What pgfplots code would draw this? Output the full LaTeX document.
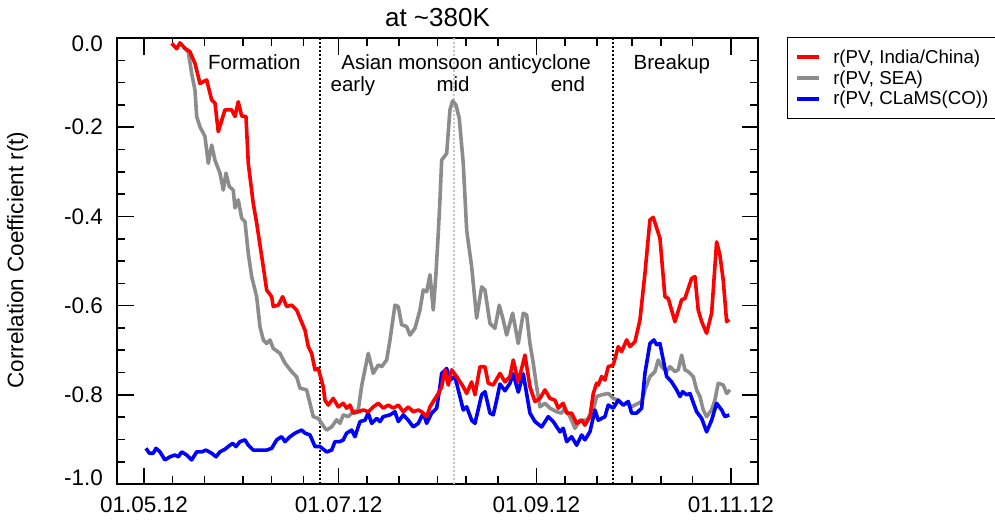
\documentclass[border=0pt]{standalone}
\usepackage{fontspec}
\setmainfont{Liberation Sans}
\usepackage{pgfplots}
\pgfplotsset{compat=1.18}
\definecolor{sgray}{RGB}{140,140,140}
\definecolor{lgray}{RGB}{195,195,195}
\begin{document}
\begin{tikzpicture}
\path[use as bounding box] (0pt,0pt) rectangle (995pt,-519pt);
\begin{axis}[
  at={(117pt,-484pt)}, anchor=south west,
  scale only axis, width=641pt, height=446pt,
  xmin=-8.46, xmax=192.5, ymin=-1, ymax=0,
  tick pos=both, tick align=inside,
  xtick={0,61,123,184},
  xticklabels={01.05.12,01.07.12,01.09.12,01.11.12},
  minor xtick={9,19,31,40,50,70,80,92,101,111,132,142,153,162,172},
  ytick={-1,-0.8,-0.6,-0.4,-0.2,0},
  yticklabels={,{-0.8},{-0.6},{-0.4},{-0.2},},
  minor ytick={-0.95,-0.9,-0.85,-0.75,-0.7,-0.65,-0.55,-0.5,-0.45,-0.35,-0.3,-0.25,-0.15,-0.1,-0.05},
  extra y ticks={-0.9865,-0.0135},
  extra y tick labels={{-1.0},{0.0}},
  extra y tick style={tick style={draw=none}},
  major tick length=16.5pt, minor tick length=8pt,
  every tick/.style={black, line width=1.6pt},
  axis line style={line width=1.8pt},
  xticklabel style={font=\fontsize{22.5}{27}\selectfont, inner sep=0pt, anchor=north, yshift=-12.7pt},
  yticklabel style={font=\fontsize{22.5}{27}\selectfont, inner sep=0pt, anchor=east, xshift=-14pt},
  every axis title/.style={at={(0.5,1)}, anchor=base, yshift=11.3pt, font=\fontsize{26}{30}\selectfont},
  title={at \textasciitilde380K},
  every axis y label/.style={at={(-0.1459,0.502)}, rotate=90, anchor=base, font=\fontsize{22.5}{27}\selectfont},
  ylabel={Correlation Coefficient r(t)},
  legend style={at={(1.0453,1.002)}, anchor=north west, draw=black, line width=1.2pt,
    inner xsep=8pt, inner ysep=12pt, font=\fontsize{18.7}{22}\selectfont,
    nodes={inner sep=0pt}, row sep=5.7pt,
    /tikz/every odd column/.append style={column sep=12.5pt}},
  legend cell align=left,
  legend image code/.code={\draw[#1] (0pt,0pt) -- (21.5pt,0pt);},
  clip=false,
]
% phase separators
\addplot[forget plot, black, line width=1.8pt, dash pattern=on 1.6pt off 2.4pt] coordinates {(55.2,-1) (55.2,0)};
\addplot[forget plot, black, line width=1.8pt, dash pattern=on 1.6pt off 2.4pt] coordinates {(147.1,-1) (147.1,0)};
\addplot[forget plot, lgray, line width=1.8pt, dash pattern=on 1.6pt off 2.4pt] coordinates {(97.1,-1) (97.1,0)};
% SEA
\addplot[forget plot, sgray, line width=3.6pt, line join=round] coordinates {
(12.32,-0.020)(13.89,-0.031)(14.95,-0.079)(15.99,-0.117)(16.52,-0.176)(17.55,-0.199)(19.12,-0.221)(20.16,-0.281)(21.22,-0.240)(22.26,-0.274)(23.82,-0.303)(24.86,-0.341)(25.71,-0.303)(26.74,-0.333)(27.99,-0.341)(28.53,-0.381)(29.56,-0.363)(30.63,-0.404)(31.66,-0.412)(32.70,-0.483)(33.76,-0.535)(35.33,-0.580)(36.36,-0.647)(37.40,-0.677)(38.46,-0.685)(39.50,-0.677)(40.53,-0.696)(42.63,-0.707)(44.20,-0.729)(46.30,-0.748)(47.87,-0.760)(48.90,-0.785)(51.00,-0.789)(53.07,-0.849)(54.64,-0.853)(56.74,-0.875)(57.27,-0.879)(58.84,-0.872)(60.41,-0.856)(61.44,-0.864)(62.48,-0.845)(64.04,-0.849)(65.61,-0.838)(67.18,-0.834)(68.24,-0.780)(70.31,-0.707)(71.88,-0.752)(73.45,-0.733)(74.51,-0.737)(76.08,-0.722)(77.12,-0.677)(78.68,-0.599)(79.72,-0.602)(80.78,-0.643)(82.35,-0.647)(83.39,-0.666)(84.95,-0.651)(86.52,-0.610)(87.55,-0.565)(88.62,-0.569)(89.66,-0.531)(90.69,-0.610)(91.54,-0.528)(92.26,-0.438)(92.79,-0.363)(93.32,-0.274)(94.89,-0.259)(95.92,-0.161)(96.77,-0.141)(97.81,-0.150)(98.84,-0.180)(100.09,-0.281)(101.16,-0.430)(101.66,-0.457)(102.73,-0.513)(104.29,-0.628)(105.86,-0.558)(106.90,-0.565)(108.46,-0.640)(110.03,-0.651)(111.38,-0.599)(112.63,-0.632)(113.70,-0.666)(115.58,-0.617)(117.34,-0.685)(118.90,-0.617)(119.97,-0.621)(121.00,-0.685)(122.04,-0.729)(123.10,-0.782)(124.14,-0.827)(125.71,-0.819)(127.27,-0.830)(129.37,-0.838)(130.94,-0.841)(131.97,-0.830)(133.54,-0.849)(135.11,-0.875)(136.68,-0.857)(138.78,-0.857)(140.85,-0.834)(141.91,-0.804)(143.48,-0.800)(145.55,-0.797)(147.12,-0.808)(148.68,-0.812)(150.25,-0.823)(151.32,-0.819)(152.88,-0.827)(153.92,-0.823)(156.02,-0.815)(157.05,-0.789)(158.62,-0.759)(160.19,-0.748)(161.22,-0.722)(162.29,-0.737)(163.86,-0.748)(164.89,-0.737)(166.46,-0.748)(167.49,-0.744)(168.56,-0.711)(169.59,-0.744)(170.63,-0.748)(172.19,-0.759)(173.26,-0.789)(174.29,-0.804)(175.33,-0.834)(176.39,-0.849)(177.96,-0.834)(178.99,-0.812)(180.03,-0.774)(181.60,-0.778)(182.66,-0.797)(183.70,-0.789)
};
% CLaMS(CO)
\addplot[forget plot, blue, line width=3.6pt, line join=round] coordinates {
(0.63,-0.920)(1.66,-0.931)(2.92,-0.931)(3.76,-0.920)(5.02,-0.928)(6.58,-0.946)(8.15,-0.939)(9.72,-0.935)(10.75,-0.939)(11.82,-0.928)(13.39,-0.935)(14.95,-0.946)(16.52,-0.928)(18.09,-0.928)(19.44,-0.924)(21.22,-0.931)(22.57,-0.939)(23.82,-0.928)(25.39,-0.922)(26.96,-0.913)(27.81,-0.909)(28.84,-0.916)(30.09,-0.905)(31.66,-0.901)(32.70,-0.913)(34.26,-0.924)(36.36,-0.924)(38.46,-0.924)(40.03,-0.920)(41.60,-0.901)(43.16,-0.894)(44.20,-0.905)(45.77,-0.894)(47.34,-0.886)(49.44,-0.879)(50.47,-0.886)(52.04,-0.890)(53.61,-0.916)(55.17,-0.916)(57.27,-0.928)(58.84,-0.924)(59.87,-0.905)(61.44,-0.905)(62.48,-0.901)(63.54,-0.886)(65.11,-0.879)(66.14,-0.894)(67.71,-0.860)(69.28,-0.857)(70.31,-0.841)(71.38,-0.864)(72.95,-0.853)(73.98,-0.860)(75.02,-0.849)(77.12,-0.845)(78.68,-0.838)(79.72,-0.860)(81.29,-0.845)(82.85,-0.857)(84.42,-0.872)(85.99,-0.864)(87.55,-0.841)(88.62,-0.864)(90.19,-0.841)(91.76,-0.830)(92.79,-0.782)(93.32,-0.752)(94.89,-0.741)(95.92,-0.767)(97.49,-0.759)(99.06,-0.804)(100.09,-0.834)(101.16,-0.827)(102.73,-0.857)(103.76,-0.864)(105.86,-0.800)(106.90,-0.793)(108.46,-0.841)(109.50,-0.845)(110.56,-0.812)(111.60,-0.776)(113.17,-0.791)(114.73,-0.774)(115.77,-0.753)(117.34,-0.794)(118.90,-0.753)(121.00,-0.841)(122.57,-0.860)(124.67,-0.872)(126.74,-0.849)(128.31,-0.860)(130.41,-0.883)(131.44,-0.875)(132.51,-0.905)(134.08,-0.894)(135.64,-0.913)(137.21,-0.890)(138.24,-0.901)(139.81,-0.883)(141.38,-0.834)(142.42,-0.857)(144.51,-0.849)(145.55,-0.823)(147.12,-0.830)(148.68,-0.812)(150.25,-0.823)(151.82,-0.815)(152.88,-0.841)(154.45,-0.841)(156.02,-0.830)(157.05,-0.752)(158.62,-0.685)(159.87,-0.677)(160.72,-0.688)(161.76,-0.685)(162.79,-0.722)(163.86,-0.759)(165.42,-0.771)(166.99,-0.789)(168.03,-0.804)(168.87,-0.793)(170.13,-0.800)(171.16,-0.797)(173.26,-0.838)(174.83,-0.853)(176.39,-0.883)(177.96,-0.857)(179.53,-0.819)(181.10,-0.834)(182.13,-0.849)(183.48,-0.845)
};
% India/China
\addplot[forget plot, red, line width=3.6pt, line join=round] coordinates {
(8.68,-0.012)(10.25,-0.024)(11.29,-0.011)(12.85,-0.023)(14.42,-0.031)(15.99,-0.057)(17.55,-0.102)(19.66,-0.094)(21.22,-0.139)(22.26,-0.146)(23.29,-0.210)(25.39,-0.161)(27.49,-0.161)(28.53,-0.176)(29.56,-0.143)(30.63,-0.175)(31.97,-0.176)(32.70,-0.281)(34.26,-0.371)(35.33,-0.415)(37.40,-0.513)(38.46,-0.565)(40.03,-0.580)(40.53,-0.602)(42.10,-0.599)(43.48,-0.580)(44.73,-0.602)(46.30,-0.599)(47.87,-0.610)(48.90,-0.628)(50.47,-0.655)(51.50,-0.692)(52.57,-0.707)(53.61,-0.744)(54.64,-0.741)(56.21,-0.782)(56.74,-0.812)(57.77,-0.823)(59.34,-0.808)(60.91,-0.827)(62.48,-0.819)(63.54,-0.830)(64.58,-0.823)(65.61,-0.841)(67.18,-0.838)(68.75,-0.834)(70.31,-0.838)(71.88,-0.827)(73.45,-0.819)(75.02,-0.830)(76.58,-0.823)(78.15,-0.830)(79.72,-0.823)(81.29,-0.838)(82.85,-0.827)(84.42,-0.838)(85.99,-0.834)(87.05,-0.838)(88.62,-0.849)(89.66,-0.827)(90.69,-0.815)(92.26,-0.797)(93.32,-0.782)(94.36,-0.744)(95.39,-0.778)(96.46,-0.744)(98.02,-0.759)(100.09,-0.782)(101.16,-0.797)(102.73,-0.771)(103.76,-0.800)(105.33,-0.737)(106.90,-0.737)(107.93,-0.774)(109.50,-0.778)(111.60,-0.752)(113.17,-0.771)(114.73,-0.759)(115.77,-0.722)(117.34,-0.771)(119.44,-0.711)(121.00,-0.782)(122.04,-0.804)(122.57,-0.815)(124.14,-0.808)(125.71,-0.789)(127.27,-0.808)(128.84,-0.812)(129.87,-0.830)(131.44,-0.819)(132.51,-0.841)(134.08,-0.841)(135.64,-0.864)(137.21,-0.857)(138.24,-0.868)(139.81,-0.849)(140.85,-0.797)(141.91,-0.774)(142.42,-0.778)(143.48,-0.759)(144.51,-0.767)(145.55,-0.737)(147.12,-0.733)(148.68,-0.692)(149.75,-0.703)(151.32,-0.677)(152.35,-0.692)(153.92,-0.681)(155.49,-0.632)(157.05,-0.528)(158.62,-0.408)(159.65,-0.402)(161.76,-0.449)(163.32,-0.580)(164.36,-0.584)(166.46,-0.636)(168.56,-0.587)(169.59,-0.584)(171.69,-0.539)(172.73,-0.535)(173.76,-0.610)(174.83,-0.636)(176.39,-0.662)(177.96,-0.617)(179.53,-0.457)(180.56,-0.487)(181.60,-0.543)(182.66,-0.636)(183.48,-0.631)
};
\addlegendimage{red, line width=3.6pt}
\addlegendentry{r(PV, India/China)}
\addlegendimage{sgray, line width=3.6pt}
\addlegendentry{r(PV, SEA)}
\addlegendimage{blue, line width=3.6pt}
\addlegendentry{r(PV, CLaMS(CO))}
% annotations
\node[anchor=base, font=\fontsize{20.5}{24}\selectfont] at (axis cs:34.6,-0.0706) {Formation};
\node[anchor=base, font=\fontsize{20.5}{24}\selectfont] at (axis cs:101,-0.0706) {Asian monsoon anticyclone};
\node[anchor=base, font=\fontsize{20.5}{24}\selectfont] at (axis cs:65.5,-0.1204) {early};
\node[anchor=base, font=\fontsize{20.5}{24}\selectfont] at (axis cs:96.9,-0.1204) {mid};
\node[anchor=base, font=\fontsize{20.5}{24}\selectfont] at (axis cs:132.9,-0.1204) {end};
\node[anchor=base, font=\fontsize{20.5}{24}\selectfont] at (axis cs:165.5,-0.0706) {Breakup};
\end{axis}
\end{tikzpicture}
\end{document}
